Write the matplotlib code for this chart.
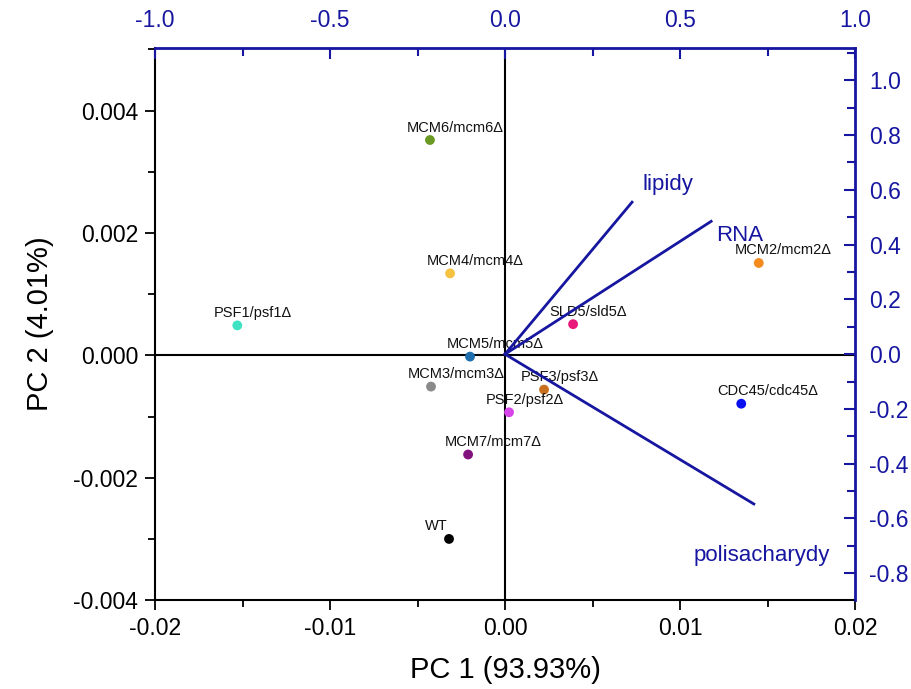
import matplotlib
matplotlib.use("Agg")
import matplotlib.pyplot as plt
from matplotlib.ticker import MultipleLocator, FormatStrFormatter

plt.rcParams['font.family'] = ['Liberation Sans', 'DejaVu Sans']

# PCA scores (PC1, PC2)
strains = ["MCM6/mcm6Δ", "MCM4/mcm4Δ", "PSF1/psf1Δ", "SLD5/sld5Δ", "MCM5/mcm5Δ",
           "MCM3/mcm3Δ", "PSF3/psf3Δ", "PSF2/psf2Δ", "MCM7/mcm7Δ", "WT",
           "MCM2/mcm2Δ", "CDC45/cdc45Δ"]
pc1 = [-0.00429, -0.00314, -0.0153, 0.00389, -0.0020,
       -0.00423, 0.00223, 0.00023, -0.00211, -0.0032,
       0.0145, 0.0135]
pc2 = [0.00352, 0.00134, 0.00049, 0.00051, -0.00002,
       -0.00051, -0.00056, -0.00093, -0.00162, -0.0030,
       0.00151, -0.00079]
colors = ["#6a9a23", "#f5c242", "#3fe3c3", "#e8197a", "#1f6fae",
          "#8a8a8a", "#c8701e", "#d645e8", "#82127e", "#000000",
          "#f58a1f", "#0a10f0"]

# loadings
variables = ["lipidy", "RNA", "polisacharydy"]
load1 = [0.363, 0.589, 0.711]
load2 = [0.555, 0.485, -0.547]

blue = "#1616a0"

fig = plt.figure(figsize=(9.12, 6.89), dpi=100)
pos = [0.170, 0.129, 0.7675, 0.801]
ax = fig.add_axes(pos)
ax.set_xlim(-0.02, 0.02)
ax.set_ylim(-0.004, 0.00502)
ax.axhline(0, color="black", lw=1.5, zorder=1)
ax.axvline(0, color="black", lw=1.5, zorder=1)

ax.scatter(pc1, pc2, c=colors, s=50, zorder=3, edgecolors="none")
for name, x, y in zip(strains, pc1, pc2):
    ax.annotate(name, (x, y), xytext=(-17, 9), textcoords="offset points",
                ha="left", va="center", fontsize=10.5, color="#111111", zorder=4)

ax.xaxis.set_major_locator(MultipleLocator(0.01))
ax.xaxis.set_minor_locator(MultipleLocator(0.005))
ax.yaxis.set_major_locator(MultipleLocator(0.002))
ax.yaxis.set_minor_locator(MultipleLocator(0.001))
ax.xaxis.set_major_formatter(FormatStrFormatter("%.2f"))
ax.yaxis.set_major_formatter(FormatStrFormatter("%.3f"))
ax.tick_params(which="both", direction="out", labelsize=16.5, width=1.3)
ax.tick_params(which="major", length=7, pad=5)
ax.tick_params(which="minor", length=5)
for s in ["top", "right"]:
    ax.spines[s].set_visible(False)
for s in ["left", "bottom"]:
    ax.spines[s].set_linewidth(1.5)
ax.set_xlabel("PC 1 (93.93%)", fontsize=21, labelpad=12)
ax.set_ylabel("PC 2 (4.01%)", fontsize=21, labelpad=14)

# loadings axes (top / right)
ax2 = fig.add_axes(pos, facecolor="none")
ax2.set_xlim(-1, 1)
ax2.set_ylim(-0.898, 1.117)
ax2.xaxis.tick_top()
ax2.yaxis.tick_right()
for s in ["left", "bottom"]:
    ax2.spines[s].set_visible(False)
for s in ["top", "right"]:
    ax2.spines[s].set_color(blue)
    ax2.spines[s].set_linewidth(2)
ax2.xaxis.set_major_locator(MultipleLocator(0.5))
ax2.xaxis.set_minor_locator(MultipleLocator(0.25))
ax2.yaxis.set_major_locator(MultipleLocator(0.2))
ax2.yaxis.set_minor_locator(MultipleLocator(0.1))
ax2.xaxis.set_major_formatter(FormatStrFormatter("%.1f"))
ax2.yaxis.set_major_formatter(FormatStrFormatter("%.1f"))
ax2.tick_params(which="both", direction="in", colors=blue, labelsize=16.5, width=1.5)
ax2.tick_params(which="major", length=8)
ax2.tick_params(which="minor", length=6)
ax2.tick_params(axis="x", pad=12)
ax2.tick_params(axis="y", pad=10)

for name, x, y in zip(variables, load1, load2):
    ax2.plot([0, x], [0, y], color=blue, lw=2, zorder=2)

ax2.text(0.393, 0.62, "lipidy", color=blue, fontsize=16, ha="left", va="center")
ax2.text(0.604, 0.435, "RNA", color=blue, fontsize=16, ha="left", va="center")
ax2.text(0.540, -0.735, "polisacharydy", color=blue, fontsize=16, ha="left", va="center")

fig.savefig("out.png", dpi=100)
